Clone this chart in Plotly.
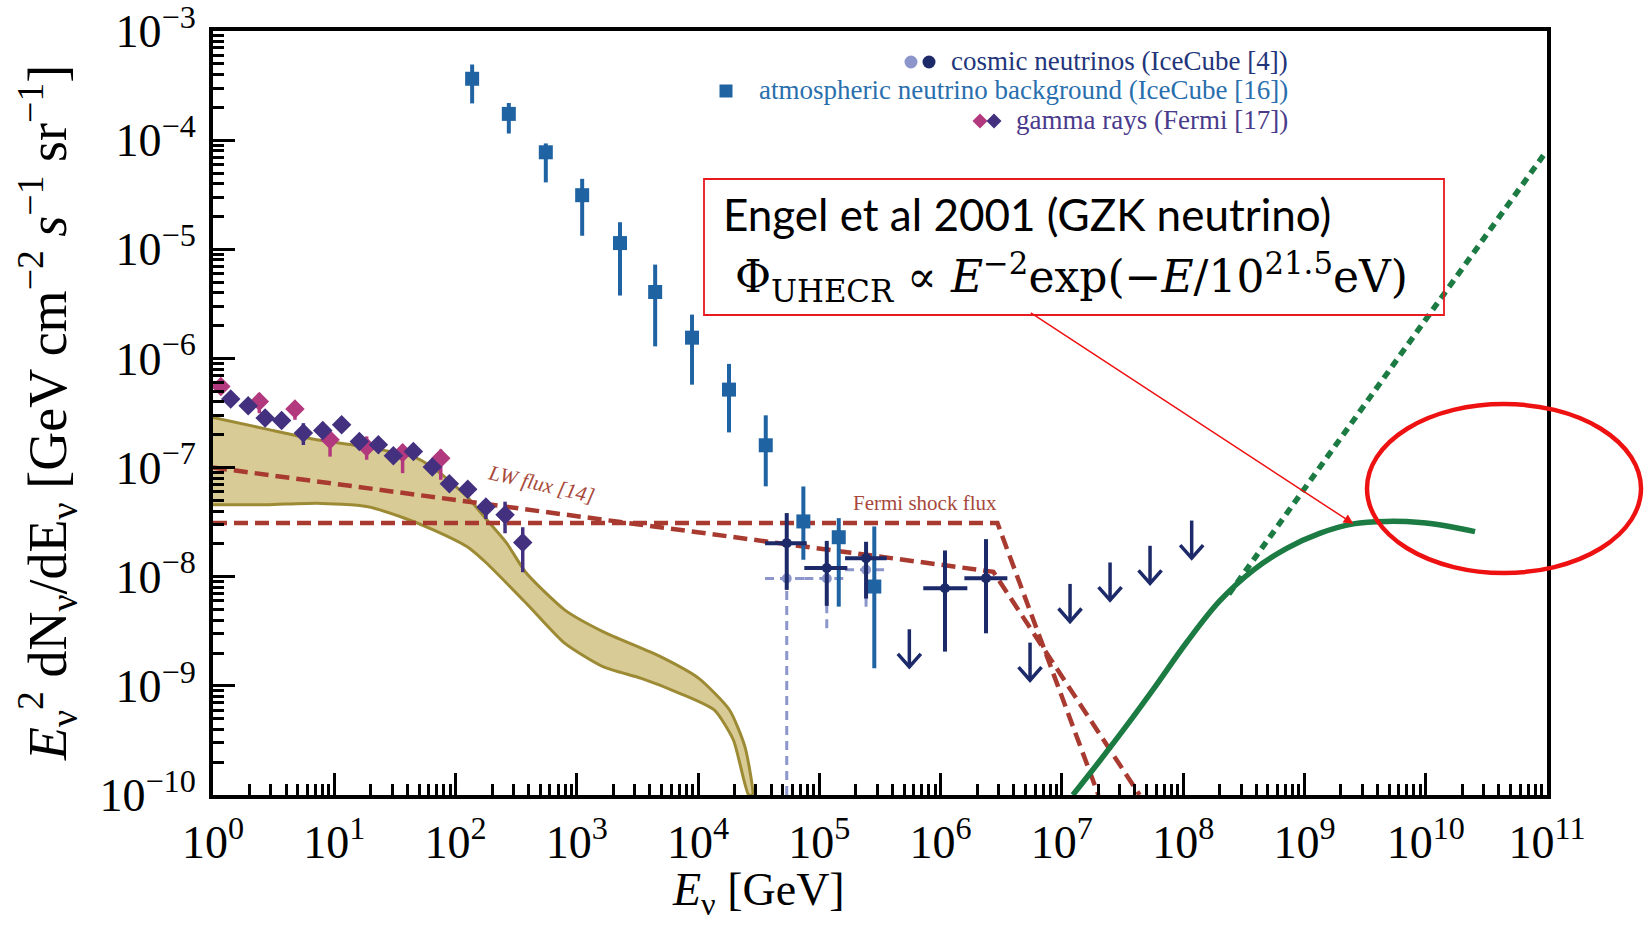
import math
import plotly.graph_objects as go

# ---------------- data ----------------
# atmospheric neutrino background (IceCube [16])
atm_E = [137, 275, 555, 1107, 2270, 4426, 8913, 17990, 36140, 73790, 144500, 283800]
atm_flux = [3.65e-4, 1.74e-4, 7.74e-5, 3.13e-5, 1.14e-5, 4.06e-6, 1.55e-6, 5.18e-7, 1.60e-7, 3.21e-8, 2.30e-8, 8.13e-9]
atm_hi = [4.93e-4, 2.19e-4, 9.33e-5, 4.42e-5, 1.77e-5, 7.24e-6, 2.52e-6, 8.91e-7, 3.01e-7, 6.71e-8, 3.44e-8, 2.88e-8]
atm_lo = [2.17e-4, 1.15e-4, 4.10e-5, 1.33e-5, 3.77e-6, 1.29e-6, 5.75e-7, 2.10e-7, 6.73e-8, 1.43e-8, 5.32e-9, 1.45e-9]

# cosmic neutrinos (IceCube [4]) - dark points
cos_E = [53830, 115100, 242700, 1.086e6, 2.366e6]
cos_E_lo = [35650, 75160, 162900, 7.19e5, 1.57e6]
cos_E_hi = [78700, 170200, 359700, 1.66e6, 3.55e6]
cos_flux = [2.03e-8, 1.20e-8, 1.48e-8, 7.85e-9, 9.70e-9]
cos_hi = [3.83e-8, 2.13e-8, 2.09e-8, 1.74e-8, 2.21e-8]
cos_lo = [7.57e-9, 5.41e-9, 6.31e-9, 2.06e-9, 3.03e-9]

# cosmic neutrinos - light points (dashed errors)
cosl_E = [53830, 115100, 242700]
cosl_E_lo = [35650, 75160, 162900]
cosl_E_hi = [78700, 170200, 370700]
cosl_flux = [9.62e-9, 9.62e-9, 1.16e-8]
cosl_hi = [9.62e-9, 9.62e-9, 1.29e-8]
cosl_lo = [1e-10, 3.37e-9, 5.32e-9]

# upper limits
ul_E = [5.52e5, 5.46e6, 1.167e7, 2.495e7, 5.33e7, 1.175e8]
ul_flux = [3.30e-9, 2.49e-9, 8.59e-9, 1.35e-8, 1.92e-8, 3.27e-8]

# gamma rays (Fermi [17]) - dark purple
gam_E = [1.40, 1.95, 2.69, 3.68, 5.56, 8.04, 11.5, 16.1, 23.1, 30.7, 44.9, 64.3, 88.9, 126, 178, 256, 358]
gam_flux = [4.25e-7, 3.68e-7, 2.84e-7, 2.70e-7, 2.07e-7, 2.19e-7, 2.47e-7, 1.73e-7, 1.62e-7, 1.28e-7,
            1.40e-7, 1.01e-7, 7.10e-8, 6.34e-8, 4.35e-8, 3.69e-8, 2.06e-8]
gam_hi = [4.77e-7, 4.22e-7, 3.19e-7, 3.17e-7, 2.55e-7, 2.57e-7, 2.77e-7, 2.03e-7, 1.82e-7, 1.47e-7,
          1.57e-7, 1.13e-7, 7.97e-8, 7.28e-8, 4.88e-8, 4.87e-8, 2.84e-8]
gam_lo = [3.79e-7, 3.20e-7, 2.53e-7, 2.30e-7, 1.61e-7, 1.87e-7, 2.20e-7, 1.47e-7, 1.44e-7, 1.11e-7,
          1.25e-7, 0.90e-7, 6.33e-8, 5.52e-8, 3.38e-8, 2.50e-8, 1.10e-8]
# gamma rays - magenta
gamm_E = [1.16, 2.41, 4.74, 9.23, 18.5, 36.6, 75.5]
gamm_flux = [5.53e-7, 4.04e-7, 3.44e-7, 1.80e-7, 1.54e-7, 1.37e-7, 1.22e-7]
gamm_hi = [6.20e-7, 4.82e-7, 3.90e-7, 2.14e-7, 1.93e-7, 1.62e-7, 1.46e-7]
gamm_lo = [4.93e-7, 3.15e-7, 2.74e-7, 1.26e-7, 1.18e-7, 8.89e-8, 7.73e-8]

# band (yellow)
band_up_E = [1, 2.77, 7.16, 18.5, 47.9, 74.5, 124, 181, 264, 383, 793, 1641, 4898, 10140, 18160, 24320, 28120]
band_up_F = [2.88e-7, 2.25e-7, 1.80e-7, 1.54e-7, 1.22e-7, 8.89e-8, 5.43e-8, 3.32e-8, 2.03e-8, 1.08e-8,
             4.97e-9, 3.14e-9, 1.85e-9, 1.17e-9, 6.01e-10, 2.77e-10, 1e-10]
band_lo_E = [1, 2.77, 7.16, 18.5, 34.8, 65.6, 124, 178, 383, 793, 1641, 3404, 7047, 13580, 19540, 26120]
band_lo_F = [4.57e-8, 4.56e-8, 4.72e-8, 4.40e-8, 3.56e-8, 2.69e-8, 1.89e-8, 1.35e-8, 5.71e-9, 2.46e-9,
             1.50e-9, 1.17e-9, 8.55e-10, 6.01e-10, 3.19e-10, 1e-10]

# model fluxes
fermi_E = [1, 2.94e6, 2.0e7]
fermi_F = [3.1e-8, 3.1e-8, 1e-10]
lw_E = [1, 2.72e6, 4.37e7]
lw_F = [1.0e-7, 1.11e-8, 1e-10]

# GZK neutrino (Engel et al 2001)
gzk_E = [1.23e7, 2.04e7, 3.39e7, 5.68e7, 1.07e8, 2.01e8, 3.79e8, 7.14e8, 1.35e9, 2.53e9, 4.76e9, 8.97e9, 1.49e10, 2.55e10]
gzk_F = [1e-10, 2.04e-10, 4.27e-10, 9.33e-10, 2.51e-9, 6.03e-9, 1.15e-8, 1.82e-8, 2.51e-8, 3.05e-8,
         3.21e-8, 3.14e-8, 2.92e-8, 2.59e-8]
gzk_dot_E = [2.38e8, 9.33e10]
gzk_dot_F = [6.92e-9, 7.24e-5]

xtick_vals = [10 ** n for n in range(0, 12)]
xtick_text = ["10<sup>%d</sup>" % n for n in range(0, 12)]
ytick_vals = [10.0 ** n for n in range(-10, -2)]
ytick_text = ["10<sup>\u2212%d</sup>" % (-n) for n in range(-10, -2)]

legend_labels = ["cosmic neutrinos (IceCube [4])",
                 "atmospheric neutrino background (IceCube [16])",
                 "gamma rays (Fermi [17])"]

# ---------------- colours ----------------
C_ATM = "#1f63a2"
C_COS = "#1d2a6a"
C_COSL = "#8d96cb"
C_GAM = "#43307f"
C_GAMM = "#b3397f"
C_RED = "#a83a30"
C_GRN = "#1c7a43"
C_BAND_F = "rgb(217,203,150)"
C_BAND_L = "#9c8a34"

# plot-area geometry (pixels) used to place decorations
L, R, T, B = 213, 1547, 31, 795
def PX(X):
    return (X - L) / (R - L)
def PY(Y):
    return (B - Y) / (B - T)

fig = go.Figure()

# band
fig.add_trace(go.Scatter(x=band_up_E + band_lo_E[::-1], y=band_up_F + band_lo_F[::-1],
                         mode="lines", fill="toself", fillcolor=C_BAND_F,
                         line=dict(color=C_BAND_L, width=3, shape="spline", smoothing=0.6),
                         hoverinfo="skip"))

# red dashed model lines
fig.add_trace(go.Scatter(x=lw_E, y=lw_F, mode="lines", line=dict(color=C_RED, width=4.5, dash="14px,7px")))
fig.add_trace(go.Scatter(x=fermi_E, y=fermi_F, mode="lines", line=dict(color=C_RED, width=4.5, dash="14px,7px")))

# light cosmic neutrinos (dashed error bars)
sx, sy = [], []
for e, el, eh, f, fl, fh in zip(cosl_E, cosl_E_lo, cosl_E_hi, cosl_flux, cosl_lo, cosl_hi):
    sx += [el, eh, None, e, e, None]
    sy += [f, f, None, fl, fh, None]
fig.add_trace(go.Scatter(x=sx, y=sy, mode="lines", line=dict(color=C_COSL, width=3, dash="9px,6px")))
fig.add_trace(go.Scatter(x=cosl_E, y=cosl_flux, mode="markers",
                         marker=dict(symbol="circle", size=10, color=C_COSL)))

# gamma rays
fig.add_trace(go.Scatter(x=gamm_E, y=gamm_flux, mode="markers",
                         marker=dict(symbol="diamond", size=15, color=C_GAMM),
                         error_y=dict(type="data", symmetric=False,
                                      array=[h - f for h, f in zip(gamm_hi, gamm_flux)],
                                      arrayminus=[f - l for f, l in zip(gamm_flux, gamm_lo)],
                                      color=C_GAMM, thickness=3.5, width=0)))
fig.add_trace(go.Scatter(x=gam_E, y=gam_flux, mode="markers",
                         marker=dict(symbol="diamond", size=15, color=C_GAM),
                         error_y=dict(type="data", symmetric=False,
                                      array=[h - f for h, f in zip(gam_hi, gam_flux)],
                                      arrayminus=[f - l for f, l in zip(gam_flux, gam_lo)],
                                      color=C_GAM, thickness=3.5, width=0)))

# atmospheric neutrinos
fig.add_trace(go.Scatter(x=atm_E, y=atm_flux, mode="markers",
                         marker=dict(symbol="square", size=14, color=C_ATM),
                         error_y=dict(type="data", symmetric=False,
                                      array=[h - f for h, f in zip(atm_hi, atm_flux)],
                                      arrayminus=[f - l for f, l in zip(atm_flux, atm_lo)],
                                      color=C_ATM, thickness=4, width=0)))

# cosmic neutrinos (dark)
fig.add_trace(go.Scatter(x=cos_E, y=cos_flux, mode="markers",
                         marker=dict(symbol="circle", size=10, color=C_COS),
                         error_y=dict(type="data", symmetric=False,
                                      array=[h - f for h, f in zip(cos_hi, cos_flux)],
                                      arrayminus=[f - l for f, l in zip(cos_flux, cos_lo)],
                                      color=C_COS, thickness=4, width=0),
                         error_x=dict(type="data", symmetric=False,
                                      array=[h - e for h, e in zip(cos_E_hi, cos_E)],
                                      arrayminus=[e - l for e, l in zip(cos_E, cos_E_lo)],
                                      color=C_COS, thickness=4, width=0)))

# upper-limit arrows (shaft + chevron), length in decades
ARROW_LEN = 10 ** -0.345
ARM_DX = 10 ** 0.095
ARM_DY = 10 ** 0.12
ax_, ay_ = [], []
for e, f in zip(ul_E, ul_flux):
    tip = f * ARROW_LEN
    ax_ += [e, e, None, e / ARM_DX, e, e * ARM_DX, None]
    ay_ += [f, tip, None, tip * ARM_DY, tip, tip * ARM_DY, None]
fig.add_trace(go.Scatter(x=ax_, y=ay_, mode="lines", line=dict(color=C_COS, width=3.5)))

# GZK curves
fig.add_trace(go.Scatter(x=gzk_dot_E, y=gzk_dot_F, mode="lines",
                         line=dict(color=C_GRN, width=5.5, dash="8px,6px")))
fig.add_trace(go.Scatter(x=gzk_E, y=gzk_F, mode="lines",
                         line=dict(color=C_GRN, width=5.5, shape="spline", smoothing=1.0)))

SERIF = "Liberation Serif"

fig.update_layout(
    width=1647, height=927,
    margin=dict(l=L, r=1647 - R, t=T, b=927 - B, autoexpand=False),
    paper_bgcolor="white", plot_bgcolor="white",
    showlegend=False,
    font=dict(family=SERIF, color="black"),
)
fig.update_xaxes(type="log", range=[0, 11], showgrid=False, zeroline=False, automargin=False,
                 showline=True, linewidth=4, linecolor="black", mirror=True,
                 ticks="inside", ticklen=22, tickwidth=3, tickcolor="black",
                 tickmode="array", tickvals=xtick_vals, ticktext=xtick_text,
                 ticklabelstandoff=4, ticklabeloverflow="allow",
                 tickfont=dict(family=SERIF, size=46, color="black"),
                 minor=dict(ticks="inside", ticklen=11, tickwidth=2.5, tickcolor="black",
                            tickvals=[m * 10 ** n for n in range(0, 11) for m in range(2, 10)]))
fig.update_yaxes(type="log", range=[-10, -3], showgrid=False, zeroline=False, automargin=False,
                 showline=True, linewidth=4, linecolor="black", mirror=True,
                 ticks="inside", ticklen=22, tickwidth=3, tickcolor="black",
                 tickmode="array", tickvals=ytick_vals, ticktext=ytick_text,
                 ticklabelstandoff=4, ticklabeloverflow="allow",
                 tickfont=dict(family=SERIF, size=46, color="black"),
                 minor=dict(ticks="inside", ticklen=11, tickwidth=2.5, tickcolor="black",
                            tickvals=[m * 10.0 ** n for n in range(-10, -3) for m in range(2, 10)]))

ann = []
# axis titles
ann.append(dict(xref="paper", yref="paper", x=PX(758), y=PY(893), xanchor="center", yanchor="middle",
                text="<i>E</i><sub>\u03bd</sub> [GeV]", showarrow=False,
                font=dict(family=SERIF, size=46, color="black")))
ann.append(dict(xref="paper", yref="paper", x=PX(47), y=0.5, xanchor="center", yanchor="middle",
                textangle=-90,
                text="<i>E</i><sub>\u03bd</sub><sup>2</sup> dN<sub>\u03bd</sub>/dE<sub>\u03bd</sub> "
                     "[GeV cm<sup>\u22122</sup> <i>s</i><sup>\u22121</sup> sr<sup>\u22121</sup>]",
                showarrow=False, font=dict(family=SERIF, size=54, color="black")))
# legend text
leg_col = ["#22357a", "#2a6fad", "#4a3b8c"]
leg_y = [61, 90, 120]
for lab, col, yy in zip(legend_labels, leg_col, leg_y):
    ann.append(dict(xref="paper", yref="paper", x=PX(1290), y=PY(yy),
                    xanchor="right", yanchor="middle",
                    text=lab, showarrow=False,
                    font=dict(family=SERIF, size=27, color=col)))
# model labels
ann.append(dict(xref="paper", yref="paper", x=PX(541), y=PY(484),
                xanchor="center", yanchor="middle", textangle=13,
                text="<i>LW flux [14]</i>", showarrow=False,
                font=dict(family=SERIF, size=21, color="#a8483a")))
ann.append(dict(xref="paper", yref="paper", x=PX(925), y=PY(503),
                xanchor="center", yanchor="middle",
                text="Fermi shock flux", showarrow=False,
                font=dict(family=SERIF, size=21, color="#a8483a")))
# Engel box text
ann.append(dict(xref="paper", yref="paper", x=PX(721), y=PY(214),
                xanchor="left", yanchor="middle",
                text="Engel et al 2001 (GZK neutrino)", showarrow=False,
                font=dict(family="Lato", size=44, color="black")))
ann.append(dict(xref="paper", yref="paper", x=PX(733), y=PY(277),
                xanchor="left", yanchor="middle",
                text="\u03a6<sub>UHECR</sub> \u221d <i>E</i><sup>\u22122</sup>exp(\u2212<i>E</i>/10<sup>21.5</sup>eV)",
                showarrow=False,
                font=dict(family="DejaVu Serif", size=44, color="black")))
# red arrow pointing at the GZK curve
ann.append(dict(xref="x", yref="y", x=math.log10(gzk_E[9]), y=math.log10(gzk_F[9]),
                ax=-324, ay=-212, axref="pixel", ayref="pixel", text="", showarrow=True,
                arrowhead=2, arrowsize=1.3, arrowwidth=1.5, arrowcolor="#ee1111", standoff=0))
fig.update_layout(annotations=ann)

def sym_circle(cx, cy, r, col):
    return dict(type="circle", xref="paper", yref="paper", xsizemode="pixel", ysizemode="pixel",
                xanchor=PX(cx), yanchor=PY(cy), x0=-r, x1=r, y0=-r, y1=r,
                fillcolor=col, line=dict(width=0))

def sym_square(cx, cy, h, col):
    return dict(type="rect", xref="paper", yref="paper", xsizemode="pixel", ysizemode="pixel",
                xanchor=PX(cx), yanchor=PY(cy), x0=-h, x1=h, y0=-h, y1=h,
                fillcolor=col, line=dict(width=0))

def sym_diamond(cx, cy, h, col):
    return dict(type="path", xref="paper", yref="paper", xsizemode="pixel", ysizemode="pixel",
                xanchor=PX(cx), yanchor=PY(cy),
                path="M %g,0 L 0,%g L %g,0 L 0,%g Z" % (-h, h, h, -h),
                fillcolor=col, line=dict(width=0))

shapes = [
    dict(type="rect", xref="paper", yref="paper",
         x0=PX(704), x1=PX(1444), y0=PY(315), y1=PY(179),
         line=dict(color="#e8191f", width=1.8), fillcolor="rgba(0,0,0,0)"),
    dict(type="circle", xref="paper", yref="paper",
         x0=PX(1367), x1=PX(1641), y0=PY(573), y1=PY(404),
         line=dict(color="#ee1111", width=4.5)),
    # legend symbols
    sym_circle(911, 62, 6.5, C_COSL),
    sym_circle(929, 62, 6.5, C_COS),
    sym_square(726, 91, 6.5, C_ATM),
    sym_diamond(980, 121, 7.5, C_GAMM),
    sym_diamond(994, 121, 7.5, C_GAM),
]
fig.update_layout(shapes=shapes)

fig.write_html("out.html")
